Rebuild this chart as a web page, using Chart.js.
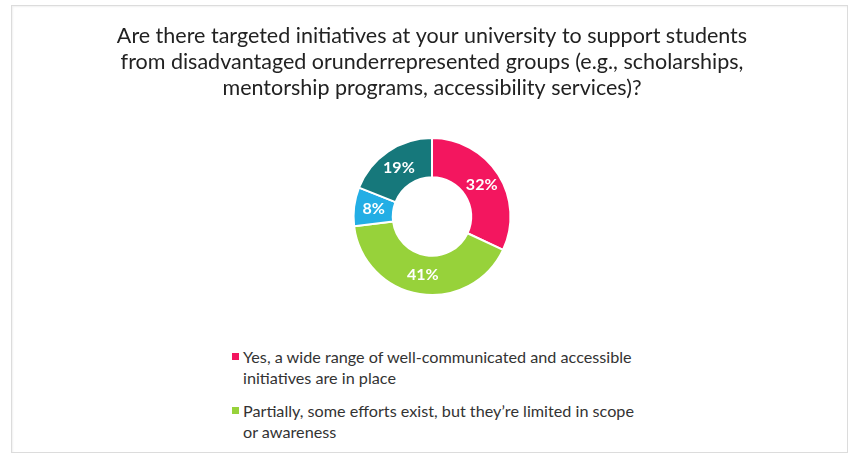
<!DOCTYPE html>
<html>
<head>
<meta charset="utf-8">
<script src="https://cdn.jsdelivr.net/npm/chart.js@4.4.1/dist/chart.umd.min.js"></script>
<style>
  body { margin: 0; background: #fff; font-family: Lato, 'Open Sans', sans-serif; }
  .frame {
    position: absolute; left: 11px; top: 5px; width: 835px; height: 446px;
    border: 1px solid #dcdcdc; box-shadow: inset 1px 1px 2px rgba(0,0,0,0.06);
  }
  .chart-box { position: absolute; left: 0; top: 0; width: 850px; height: 310px; }
  #legend { position: absolute; left: 232px; top: 346px; list-style: none; margin: 0; padding: 0; }
  #legend li { position: relative; padding-left: 11px; margin-bottom: 12px;
    font-size: 16.2px; line-height: 21px; color: #333; white-space: nowrap; }
  #legend .swatch { position: absolute; left: 0; top: 7px; width: 7px; height: 7px; }
</style>
</head>
<body>
<div class="frame"></div>
<div class="chart-box"><canvas id="donut"></canvas></div>
<ul id="legend"></ul>

<script>
const titleLines = [
  'Are there targeted initiatives at your university to support students',
  'from disadvantaged orunderrepresented groups (e.g., scholarships,',
  'mentorship programs, accessibility services)?'
];
const answers = [
  ['Yes, a wide range of well-communicated and accessible', 'initiatives are in place'],
  ['Partially, some efforts exist, but they\u2019re limited in scope', 'or awareness'],
  'No',
  'Not sure'
];
const shares = [32, 41, 8, 19];
const sliceColors = ['#F3165F', '#97D23A', '#23AEE5', '#16787B'];
const legendShown = 2; // only the first answers fit in the legend

// white percentage text in the middle of each slice
const sliceLabels = {
  id: 'sliceLabels',
  afterDatasetsDraw(chart) {
    const ctx = chart.ctx;
    const meta = chart.getDatasetMeta(0);
    ctx.save();
    ctx.font = 'bold 16px Lato';
    ctx.fillStyle = '#fff';
    ctx.textAlign = 'center';
    ctx.textBaseline = 'middle';
    meta.data.forEach((arc, i) => {
      const pos = arc.tooltipPosition();
      ctx.fillText(shares[i] + '%', pos.x, pos.y);
    });
    ctx.restore();
  }
};

const ctx = document.getElementById('donut').getContext('2d');
const chart = new Chart(ctx, {
  type: 'doughnut',
  data: {
    labels: answers,
    datasets: [{
      data: shares,
      backgroundColor: sliceColors,
      borderColor: '#fff',
      borderWidth: 2
    }]
  },
  options: {
    responsive: true,
    maintainAspectRatio: false,
    animation: false,
    cutout: '50%',
    layout: { padding: { left: 14, bottom: 14 } },
    plugins: {
      legend: { display: false },
      tooltip: { enabled: false },
      title: {
        display: true,
        text: titleLines,
        color: '#222',
        font: { family: 'Lato', size: 21.5, weight: 'normal', lineHeight: 1.21 },
        padding: { top: 23, bottom: 36 }
      }
    }
  },
  plugins: [sliceLabels]
});

// build the legend list from the chart's own legend items
const legendEl = document.getElementById('legend');
const items = chart.options.plugins.legend.labels.generateLabels(chart);
items.slice(0, legendShown).forEach(item => {
  const li = document.createElement('li');
  const sw = document.createElement('span');
  sw.className = 'swatch';
  sw.style.background = item.fillStyle;
  li.appendChild(sw);
  const lines = Array.isArray(item.text) ? item.text : [item.text];
  lines.forEach((line, i) => {
    if (i > 0) li.appendChild(document.createElement('br'));
    li.appendChild(document.createTextNode(line));
  });
  legendEl.appendChild(li);
});
</script>
</body>
</html>
